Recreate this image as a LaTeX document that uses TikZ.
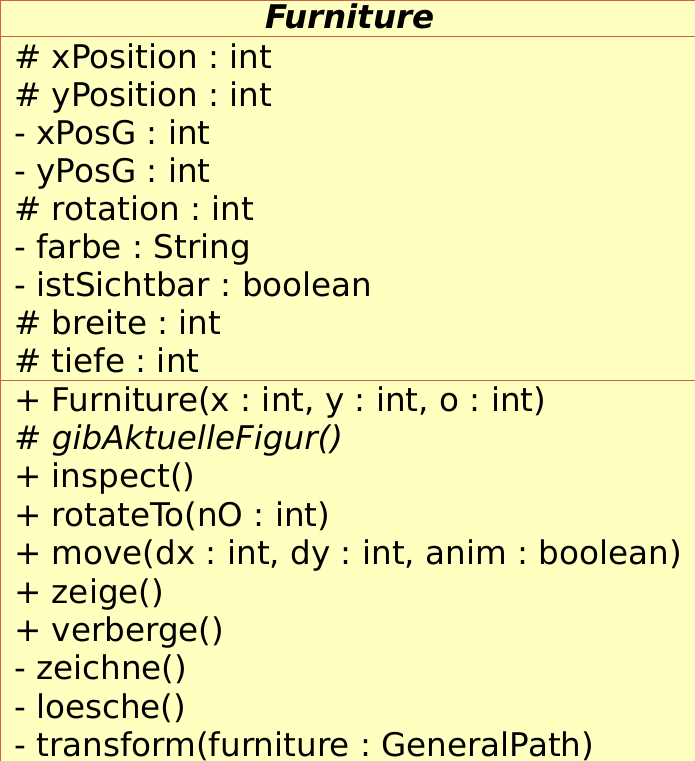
\documentclass[tikz,border=0pt]{standalone}
\usepackage{fontspec}
\setmainfont{DejaVu Sans}
\frenchspacing
\definecolor{umlfill}{HTML}{FFFFC0}
\definecolor{umlline}{HTML}{C8644E}
\begin{document}
\begin{tikzpicture}[x=1pt,y=-1pt,
  member/.style={anchor=base west,inner sep=0pt,font=\fontsize{32.6}{38}\selectfont},
  title/.style={anchor=base,inner sep=0pt,font=\fontsize{32.6}{38}\selectfont\bfseries\itshape}]
  \useasboundingbox (0,0) rectangle (695,761);
  % class box
  \fill[umlfill] (0,0) rectangle (695,761);
  \draw[umlline,line width=1.2pt] (0.6,761) -- (0.6,0.6) -- (695,0.6);
  \coordinate (s1l) at (0,36.5);  \coordinate (s1r) at (695,36.5);
  \coordinate (s2l) at (0,380.5); \coordinate (s2r) at (695,380.5);
  \draw[umlline,line width=1.2pt] (s1l) -- (s1r);
  \draw[umlline,line width=1.2pt] (s2l) -- (s2r);
  % name
  \node[title] (name) at (350,28) {Furniture};
  % attributes
  \foreach \t [count=\i from 0] in {\# xPosition : int,\# yPosition : int,- xPosG : int,- yPosG : int,\# rotation : int,- farbe : String,- istSichtbar : boolean,\# breite : int,\# tiefe : int}
    \node[member] (a\i) at (14,68+38.1*\i) {\t};
  % operations
  \foreach \t [count=\i from 0] in {{+ Furniture(x : int, y : int, o : int)},{\itshape\# gibAktuelleFigur()},+ inspect(),+ rotateTo(nO : int),{+ move(dx : int, dy : int, anim : boolean)},+ zeige(),+ verberge(),- zeichne(),- loesche(),- transform(furniture : GeneralPath)}
    \node[member] (m\i) at (14,411+38.4*\i) {\t};
\end{tikzpicture}
\end{document}
